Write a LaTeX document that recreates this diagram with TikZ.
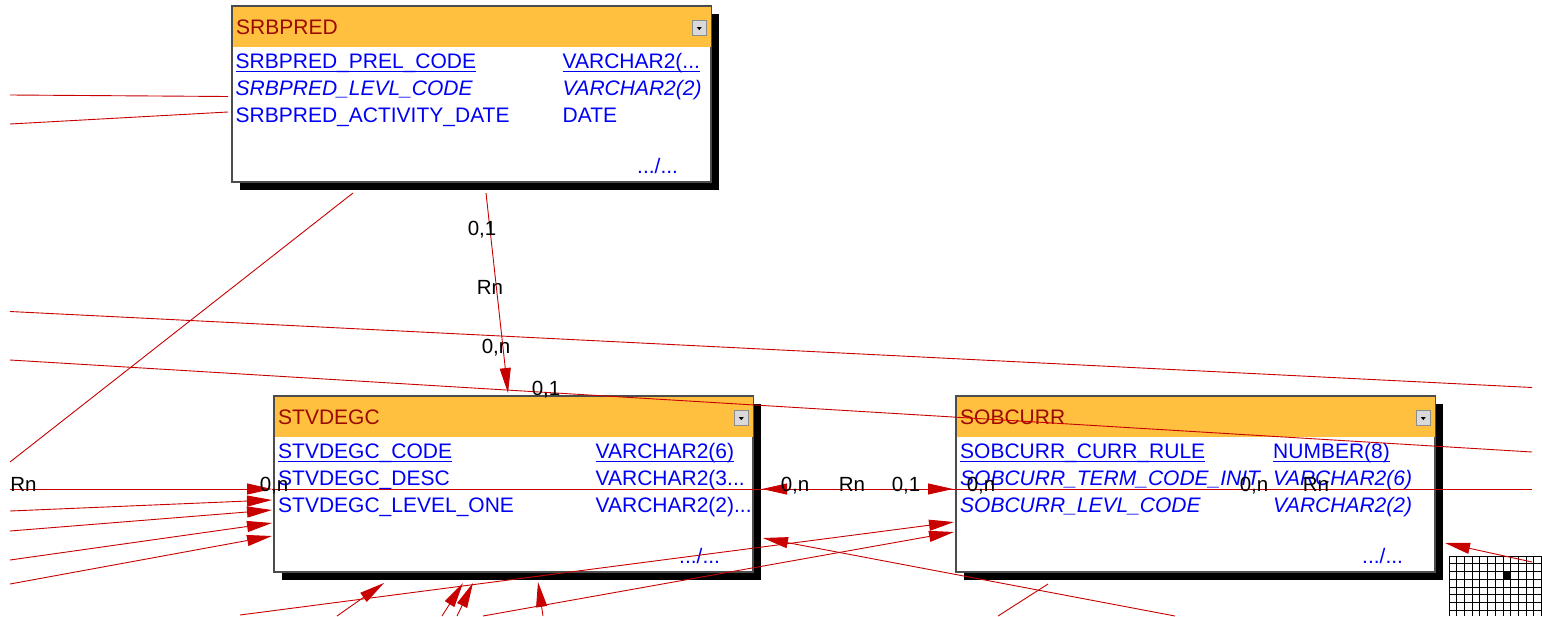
\documentclass[tikz,border=0pt]{standalone}
\usepackage{fontspec}
\setmainfont{Liberation Sans}
\usetikzlibrary{positioning}
\usetikzlibrary{arrows.meta, shadows}
\definecolor{headfill}{RGB}{255,192,64}
\definecolor{headtext}{RGB}{155,10,0}
\definecolor{fieldblue}{RGB}{0,0,245}
\definecolor{relred}{RGB}{200,0,0}
\newcommand{\keyfield}[1]{\setbox0\hbox{#1}\rlap{\rule[-4.2pt]{\wd0}{1.5pt}}\box0}

\begin{document}
\begin{tikzpicture}[x=1pt,y=-1pt,font=\fontsize{21}{24}\selectfont,
  entity/.style = {draw=black!70, line width=1.3pt, fill=white, anchor=north west, minimum width=479pt, minimum height=176pt, inner sep=0pt, outer sep=0pt, drop shadow={shadow xshift=8pt, shadow yshift=-8pt, opacity=1, fill=black}},
  entityhead/.style = {fill=headfill, text=headtext, anchor=north west, minimum width=477.7pt, minimum height=40.5pt, text width=471pt, inner xsep=3pt, inner ysep=0pt, align=left},
  field/.style = {text=fieldblue, anchor=base west, inner sep=0pt},
  btn/.style = {draw=black!45, fill=black!15, minimum width=14pt, minimum height=15pt, inner sep=0pt},
  card/.style = {anchor=base, inner sep=0pt, font=\fontsize{20.5}{24}\selectfont},
  rel/.style = {draw=relred, line width=0.9pt},
  arrowend/.style = {-{Triangle[length=25pt,width=11pt]}}]

  \useasboundingbox (0,0) rectangle (1542,616);

  % grid icon
  \fill[white] (1449,556) rectangle (1542,616);
  \fill (1502.9,571.5) rectangle (1510.6,579.25);
  \foreach \i in {0,...,12} \draw[line width=0.8pt] (1449+7.7*\i,556) -- (1449+7.7*\i,616);
  \foreach \j in {0,...,7} \draw[line width=0.8pt] (1449,556+7.75*\j) -- (1542,556+7.75*\j);

  % SRBPRED
  \node[entity] (srbpred) at (232,6) {};
  \node[entityhead] (srbpred head) at ([shift={(0.65pt,-0.65pt)}]srbpred.north west) {SRBPRED};
  \node[btn] (srbpred btn) at ([shift={(-11.5,0.5)}]srbpred head.east) {};
  \fill ([shift={(-2.5pt,0.5pt)}]srbpred btn.center) -- ++(5pt,0) -- ++(-2.5pt,-3pt) -- cycle;
  \node[field] (srbpred f1) at ([shift={(3.5,62)}]srbpred.north west) {\keyfield{SRBPRED\_PREL\_CODE}};
  \node[field] (srbpred t1) at ([shift={(330.5,62)}]srbpred.north west) {\keyfield{VARCHAR2(...}};
  \node[field] (srbpred f2) at ([shift={(3.5,89)}]srbpred.north west) {\itshape SRBPRED\_LEVL\_CODE};
  \node[field] (srbpred t2) at ([shift={(330.5,89)}]srbpred.north west) {\itshape VARCHAR2(2)};
  \node[field] (srbpred f3) at ([shift={(3.5,116.5)}]srbpred.north west) {SRBPRED\_ACTIVITY\_DATE};
  \node[field] (srbpred t3) at ([shift={(330.5,116.5)}]srbpred.north west) {DATE};
  \node[field] (srbpred more) at ([shift={(405,167)}]srbpred.north west) {.../...};

  % STVDEGC
  \node[entity] (stvdegc) at (274,396) {};
  \node[entityhead] (stvdegc head) at ([shift={(0.65pt,-0.65pt)}]stvdegc.north west) {STVDEGC};
  \node[btn] (stvdegc btn) at ([shift={(-11.5,0.5)}]stvdegc head.east) {};
  \fill ([shift={(-2.5pt,0.5pt)}]stvdegc btn.center) -- ++(5pt,0) -- ++(-2.5pt,-3pt) -- cycle;
  \node[field] (stvdegc f1) at ([shift={(4,62)}]stvdegc.north west) {\keyfield{STVDEGC\_CODE}};
  \node[field] (stvdegc t1) at ([shift={(321.5,62)}]stvdegc.north west) {\keyfield{VARCHAR2(6)}};
  \node[field] (stvdegc f2) at ([shift={(4,89)}]stvdegc.north west) {STVDEGC\_DESC};
  \node[field] (stvdegc t2) at ([shift={(321.5,89)}]stvdegc.north west) {VARCHAR2(3...};
  \node[field] (stvdegc f3) at ([shift={(4,116.5)}]stvdegc.north west) {STVDEGC\_LEVEL\_ONE};
  \node[field] (stvdegc t3) at ([shift={(321.5,116.5)}]stvdegc.north west) {VARCHAR2(2)...};
  \node[field] (stvdegc more) at ([shift={(405,167)}]stvdegc.north west) {.../...};

  % SOBCURR
  \node[entity] (sobcurr) at (956,396) {};
  \node[entityhead] (sobcurr head) at ([shift={(0.65pt,-0.65pt)}]sobcurr.north west) {SOBCURR};
  \node[btn] (sobcurr btn) at ([shift={(-11.5,0.5)}]sobcurr head.east) {};
  \fill ([shift={(-2.5pt,0.5pt)}]sobcurr btn.center) -- ++(5pt,0) -- ++(-2.5pt,-3pt) -- cycle;
  \node[field] (sobcurr f1) at ([shift={(4,62)}]sobcurr.north west) {\keyfield{SOBCURR\_CURR\_RULE}};
  \node[field] (sobcurr t1) at ([shift={(317,62)}]sobcurr.north west) {\keyfield{NUMBER(8)}};
  \node[field] (sobcurr f2) at ([shift={(4,89)}]sobcurr.north west) {\itshape SOBCURR\_TERM\_CODE\_INIT};
  \node[field] (sobcurr t2) at ([shift={(317,89)}]sobcurr.north west) {\itshape VARCHAR2(6)};
  \node[field] (sobcurr f3) at ([shift={(4,116.5)}]sobcurr.north west) {\itshape SOBCURR\_LEVL\_CODE};
  \node[field] (sobcurr t3) at ([shift={(317,116.5)}]sobcurr.north west) {\itshape VARCHAR2(2)};
  \node[field] (sobcurr more) at ([shift={(406,167)}]sobcurr.north west) {.../...};

  % connector ends
  \coordinate (w1) at (10,95);     \coordinate (p1) at (228,96.5);
  \coordinate (w2) at (10,124);    \coordinate (p2) at (228,112);
  \coordinate (w3) at (10,462);    \coordinate (p3) at (353,193);
  \coordinate (p4) at (486,193);   \coordinate (d4) at (508,393);
  \coordinate (w5) at (10,311.5);  \coordinate (e5) at (1532,387.5);
  \coordinate (w6) at (10,360);    \coordinate (e6) at (1532,452);
  \coordinate (w7) at (10,489);    \coordinate (d7) at (272,489);
  \coordinate (e7) at (1532,489);
  \coordinate (d8) at (762,489);   \coordinate (c8) at (953,489);
  \coordinate (w9) at (10,511);    \coordinate (d9) at (272,500);
  \coordinate (w10) at (10,531);   \coordinate (d10) at (272,510);
  \coordinate (w11) at (10,560);   \coordinate (d11) at (272,523);
  \coordinate (w12) at (10,584);   \coordinate (d12) at (272,536);
  \coordinate (b13) at (337,616);  \coordinate (d13) at (384,583);
  \coordinate (b14) at (442,616);  \coordinate (d14) at (463,583);
  \coordinate (b15) at (457,616);  \coordinate (d15) at (473,583);
  \coordinate (b16) at (543,616);  \coordinate (d16) at (538,582);
  \coordinate (b17) at (240,615);  \coordinate (c17) at (954,522);
  \coordinate (b18) at (483,616);  \coordinate (c18) at (954,532);
  \coordinate (b19) at (1175,616); \coordinate (d19) at (763,538);
  \coordinate (b20) at (998,616);  \coordinate (q20) at (1048,584);
  \coordinate (e21) at (1532,562); \coordinate (c21) at (1445,543);

  % connectors
  \draw[rel] (w1) -- (p1);
  \draw[rel] (w2) -- (p2);
  \draw[rel] (w3) -- (p3);
  \draw[rel,arrowend] (p4) -- (d4);
  \draw[rel] (w5) -- (e5);
  \draw[rel] (w6) -- (e6);
  \draw[rel,arrowend] (w7) -- (d7);
  \draw[rel,line width=0.7pt] (d7) -- (e7);
  \draw[rel,{Triangle[length=25pt,width=11pt]}-{Triangle[length=25pt,width=11pt]}] (d8) -- (c8);
  \draw[rel,arrowend] (w9) -- (d9);
  \draw[rel,arrowend] (w10) -- (d10);
  \draw[rel,arrowend] (w11) -- (d11);
  \draw[rel,arrowend] (w12) -- (d12);
  \draw[rel,arrowend] (b13) -- (d13);
  \draw[rel,arrowend] (b14) -- (d14);
  \draw[rel,arrowend] (b15) -- (d15);
  \draw[rel,arrowend] (b16) -- (d16);
  \draw[rel,arrowend] (b17) -- (c17);
  \draw[rel,arrowend] (b18) -- (c18);
  \draw[rel,arrowend] (b19) -- (d19);
  \draw[rel] (b20) -- (q20);
  \draw[rel,arrowend] (e21) -- (c21);

  % cardinalities
  \node[card] (k1) at (482,235) {0,1};
  \node[card] (k2) at (490,294) {Rn};
  \node[card] (k3) at (496,353) {0,n};
  \node[card] (k4) at (546,395) {0,1};
  \node[card] (k5) at (23.5,491) {Rn};
  \node[card] (k6) at (274,491) {0,n};
  \node[card] (k7) at (795,491) {0,n};
  \node[card] (k8) at (852,491) {Rn};
  \node[card] (k9) at (906,491) {0,1};
  \node[card] (k10) at (981,491) {0,n};
  \node[card] (k11) at (1254,491) {0,n};
  \node[card] (k12) at (1316,491) {Rn};
\end{tikzpicture}
\end{document}
